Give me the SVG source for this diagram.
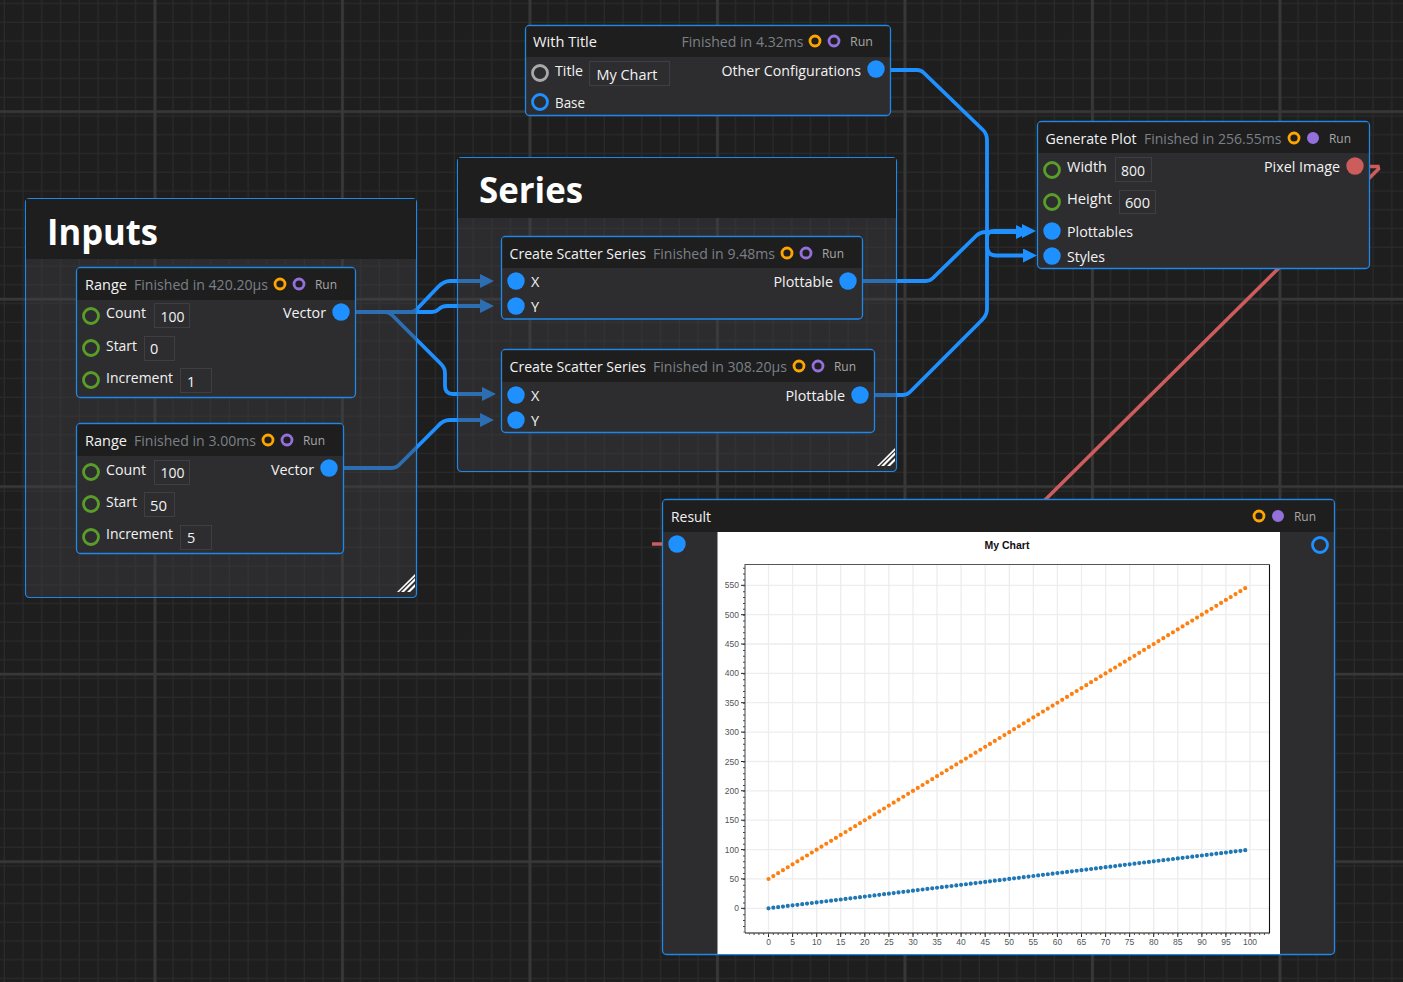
<svg xmlns="http://www.w3.org/2000/svg" width="1403" height="982" viewBox="0 0 1403 982">
<style>
text{font-family:"Open Sans","Noto Sans","Liberation Sans",sans-serif;fill:#f2f2f2;font-size:14.5px}
.d{fill:#7b8087}
.r{fill:#a6a6a6;font-size:12px}
.big{font-size:36px;font-weight:700;fill:#fff}
.tick{font-size:8.5px;fill:#555;text-anchor:middle;font-family:"Liberation Sans",sans-serif}
.ytick{text-anchor:end}
.node{fill:#2d2d30;stroke:#1e88ea;stroke-width:1.3}
.hdr{fill:#1e1e1e}
.grp{fill:#404044;fill-opacity:.42;stroke:#1e88ea;stroke-width:1.2}
.box{fill:#2d2d30;stroke:#3f3f43}
.dot{fill:#1e90ff}
.g{fill:none;stroke:#5a9e2a;stroke-width:2.8}
.o{fill:none;stroke:#ffa500;stroke-width:2.8}
.p{fill:none;stroke:#9370db;stroke-width:2.8}
.pf{fill:#9370db;stroke:#9370db;stroke-width:2}
.c{fill:none;stroke:#1e90ff;stroke-width:3.8;stroke-linejoin:round}
</style>
<defs>
<pattern id="minor" width="18.75" height="18.75" patternUnits="userSpaceOnUse" x="5" y="4.2">
<path d="M18.25 0V18.75M0 18.25H18.75" stroke="#2a2a2a" stroke-width="1.500" fill="none"/>
</pattern>
<pattern id="major" width="187.5" height="187.5" patternUnits="userSpaceOnUse" x="153.6" y="110.3">
<path d="M0 0V187.5M0 0H187.5" stroke="#383838" stroke-width="5.500" fill="none"/>
</pattern>
<marker id="a" markerUnits="userSpaceOnUse" markerWidth="14" markerHeight="14" refX="0" refY="7" orient="auto">
<path d="M0 0L14 7L0 14Z" fill="#1e90ff"/>
</marker>
<g id="grip"><path d="M-18 17L-16 17L0 1.500L0 -1ZM-14 17L-11 17L0 6L0 3ZM-8 17L-5 17L0 12L0 9Z" fill="#fff"/></g>
</defs>
<rect width="1403" height="982" fill="#1e1e1e"/>
<rect width="1403" height="982" fill="url(#minor)"/>
<rect width="1403" height="982" fill="url(#major)"/>

<g id="connectors">
<path id="c-image-result" d="M1365 166.500H1378L1378.500 169L1046 499L1000 544H652" fill="none" stroke="#cd5c5c" stroke-width="3.600"/>
<path class="c" marker-end="url(#a)" d="M355 312H411Q414 312 417 309L438 287Q444 281 450 281H480"/>
<path class="c" marker-end="url(#a)" d="M355 312H432Q436 312 439 309Q442 306 447 306H480"/>
<path class="c" marker-end="url(#a)" d="M355 312H385Q389 312 392 315L441 364Q445 368 445 373V386Q445 394 453 394H482"/>
<path class="c" marker-end="url(#a)" d="M343 468H392Q396 468 399 465L438 426Q443 420 450 420H480"/>
<path class="c" marker-end="url(#a)" d="M890 70H917Q921 70 924 73L983 130Q987 134 987 140V246Q987 255.500 996 255.500H1023"/>
<path class="c" marker-end="url(#a)" d="M862 281H926Q930 281 933 278L976 236Q980 232 986 232H1016"/>
<path class="c" marker-end="url(#a)" d="M874 395H903Q907 395 910 392L982 320Q987 315 987 309V238Q987 231 994 231H1022"/>
</g>

<g id="inputs">
<rect class="grp" x="25.500" y="198.500" width="391" height="399" rx="4"/>
<path class="hdr" d="M26 199H416V259H26Z"/>
<text class="big" x="47" y="245" textLength="111" lengthAdjust="spacingAndGlyphs">Inputs</text>
<use href="#grip" x="415" y="575"/>
</g>
<g id="series">
<rect class="grp" x="457.500" y="157.500" width="439" height="314" rx="4"/>
<path class="hdr" d="M458 158H896V218H458Z"/>
<text class="big" x="479" y="203" textLength="104" lengthAdjust="spacingAndGlyphs">Series</text>
<use href="#grip" x="895" y="449"/>
</g>

<g id="range-1">
<rect class="node" x="76.500" y="267.500" width="279" height="130" rx="4"/>
<path class="hdr" d="M77.500 268.500H354.500V300H77.500Z"/>
<text x="85" y="290" textLength="42" lengthAdjust="spacingAndGlyphs">Range</text>
<text class="d" x="134" y="290" textLength="134" lengthAdjust="spacingAndGlyphs">Finished in 420.20µs</text>
<circle class="o" cx="280" cy="284" r="5"/><circle class="p" cx="299" cy="284" r="5"/>
<text class="r" x="315" y="289" textLength="22" lengthAdjust="spacingAndGlyphs">Run</text>
<circle class="g" cx="91" cy="316" r="7.500"/><text x="106" y="318" textLength="40" lengthAdjust="spacingAndGlyphs">Count</text>
<rect class="box" x="154.500" y="303.500" width="35" height="24"/><text x="160.500" y="322" textLength="24" lengthAdjust="spacingAndGlyphs">100</text>
<circle class="g" cx="91" cy="348" r="7.500"/><text x="106" y="351" textLength="31" lengthAdjust="spacingAndGlyphs">Start</text>
<rect class="box" x="144.500" y="336.500" width="30" height="24"/><text x="150" y="354">0</text>
<circle class="g" cx="91" cy="380" r="7.500"/><text x="106" y="383" textLength="67" lengthAdjust="spacingAndGlyphs">Increment</text>
<rect class="box" x="180.500" y="368.500" width="31" height="24"/><text x="187" y="387">1</text>
<text x="283" y="318" textLength="43" lengthAdjust="spacingAndGlyphs">Vector</text>
<circle class="dot" cx="341" cy="312" r="8.700"/>
</g>

<g id="range-2">
<rect class="node" x="76.500" y="423.500" width="267" height="130" rx="4"/>
<path class="hdr" d="M77.500 424.500H342.500V456H77.500Z"/>
<text x="85" y="446" textLength="42" lengthAdjust="spacingAndGlyphs">Range</text>
<text class="d" x="134" y="446" textLength="122" lengthAdjust="spacingAndGlyphs">Finished in 3.00ms</text>
<circle class="o" cx="268" cy="440" r="5"/><circle class="p" cx="287" cy="440" r="5"/>
<text class="r" x="303" y="445" textLength="22" lengthAdjust="spacingAndGlyphs">Run</text>
<circle class="g" cx="91" cy="472" r="7.500"/><text x="106" y="475" textLength="40" lengthAdjust="spacingAndGlyphs">Count</text>
<rect class="box" x="154.500" y="460.500" width="35" height="24"/><text x="160.500" y="478" textLength="24" lengthAdjust="spacingAndGlyphs">100</text>
<circle class="g" cx="91" cy="504" r="7.500"/><text x="106" y="507" textLength="31" lengthAdjust="spacingAndGlyphs">Start</text>
<rect class="box" x="144.500" y="492.500" width="30" height="24"/><text x="150" y="511" textLength="17" lengthAdjust="spacingAndGlyphs">50</text>
<circle class="g" cx="91" cy="537" r="7.500"/><text x="106" y="539" textLength="67" lengthAdjust="spacingAndGlyphs">Increment</text>
<rect class="box" x="180.500" y="525.500" width="31" height="24"/><text x="187" y="543">5</text>
<text x="271" y="475" textLength="43" lengthAdjust="spacingAndGlyphs">Vector</text>
<circle class="dot" cx="329" cy="468" r="8.700"/>
</g>

<g id="with-title">
<rect class="node" x="525.500" y="25.500" width="365" height="90" rx="4"/>
<path class="hdr" d="M526.500 26.500H889.500V57H526.500Z"/>
<text x="533" y="47" textLength="64" lengthAdjust="spacingAndGlyphs">With Title</text>
<text class="d" x="681.500" y="47" textLength="122" lengthAdjust="spacingAndGlyphs">Finished in 4.32ms</text>
<circle class="o" cx="815" cy="41" r="5"/><circle class="p" cx="834" cy="41" r="5"/>
<text class="r" x="850" y="46" textLength="23" lengthAdjust="spacingAndGlyphs">Run</text>
<circle cx="540" cy="73" r="7.500" fill="none" stroke="#a9a9a9" stroke-width="2.800"/>
<text x="555" y="76" textLength="28" lengthAdjust="spacingAndGlyphs">Title</text>
<rect class="box" x="589.500" y="61.500" width="80" height="24"/><text x="596.500" y="80" textLength="61" lengthAdjust="spacingAndGlyphs">My Chart</text>
<text x="721.500" y="76" textLength="139.500" lengthAdjust="spacingAndGlyphs">Other Configurations</text>
<circle class="dot" cx="876" cy="69" r="8.700"/>
<circle cx="540" cy="102" r="7.500" fill="none" stroke="#1e90ff" stroke-width="2.800"/>
<text x="555" y="108" textLength="30" lengthAdjust="spacingAndGlyphs">Base</text>
</g>

<g id="scatter-1">
<rect class="node" x="501.500" y="236.500" width="361" height="82.500" rx="4"/>
<path class="hdr" d="M502.500 237.500H861.500V268H502.500Z"/>
<text x="509.500" y="259" textLength="136.500" lengthAdjust="spacingAndGlyphs">Create Scatter Series</text>
<text class="d" x="653" y="259" textLength="122" lengthAdjust="spacingAndGlyphs">Finished in 9.48ms</text>
<circle class="o" cx="787" cy="253" r="5"/><circle class="p" cx="806" cy="253" r="5"/>
<text class="r" x="822" y="258" textLength="22" lengthAdjust="spacingAndGlyphs">Run</text>
<circle class="dot" cx="516" cy="281" r="8.700"/><text x="531" y="287">X</text>
<circle class="dot" cx="516" cy="306" r="8.700"/><text x="531" y="312">Y</text>
<text x="773.500" y="287" textLength="59.500" lengthAdjust="spacingAndGlyphs">Plottable</text>
<circle class="dot" cx="848" cy="281" r="8.700"/>
</g>

<g id="scatter-2">
<rect class="node" x="501.500" y="349.500" width="373" height="83" rx="4"/>
<path class="hdr" d="M502.500 350.500H873.500V382H502.500Z"/>
<text x="509.500" y="372" textLength="136.500" lengthAdjust="spacingAndGlyphs">Create Scatter Series</text>
<text class="d" x="653" y="372" textLength="134" lengthAdjust="spacingAndGlyphs">Finished in 308.20µs</text>
<circle class="o" cx="799" cy="366" r="5"/><circle class="p" cx="818" cy="366" r="5"/>
<text class="r" x="834" y="371" textLength="22" lengthAdjust="spacingAndGlyphs">Run</text>
<circle class="dot" cx="516" cy="395" r="8.700"/><text x="531" y="401">X</text>
<circle class="dot" cx="516" cy="420" r="8.700"/><text x="531" y="426">Y</text>
<text x="785.500" y="401" textLength="59.500" lengthAdjust="spacingAndGlyphs">Plottable</text>
<circle class="dot" cx="860" cy="395" r="8.700"/>
</g>

<g id="generate-plot">
<rect class="node" x="1037.500" y="121.500" width="332" height="147" rx="4"/>
<path class="hdr" d="M1038.500 122.500H1368.500V153H1038.500Z"/>
<text x="1045.500" y="144" textLength="91" lengthAdjust="spacingAndGlyphs">Generate Plot</text>
<text class="d" x="1144" y="144" textLength="137.500" lengthAdjust="spacingAndGlyphs">Finished in 256.55ms</text>
<circle class="o" cx="1294" cy="138" r="5"/><circle class="pf" cx="1313" cy="138" r="5"/>
<text class="r" x="1329" y="143" textLength="22" lengthAdjust="spacingAndGlyphs">Run</text>
<circle class="g" cx="1052" cy="170" r="7.500"/><text x="1067" y="172" textLength="40" lengthAdjust="spacingAndGlyphs">Width</text>
<rect class="box" x="1115.500" y="157.500" width="36" height="24"/><text x="1121" y="176" textLength="24" lengthAdjust="spacingAndGlyphs">800</text>
<circle class="g" cx="1052" cy="202" r="7.500"/><text x="1067" y="204" textLength="45" lengthAdjust="spacingAndGlyphs">Height</text>
<rect class="box" x="1119.500" y="190.500" width="36" height="23"/><text x="1125" y="208" textLength="25" lengthAdjust="spacingAndGlyphs">600</text>
<circle class="dot" cx="1052" cy="231" r="8.700"/><text x="1067" y="237" textLength="66" lengthAdjust="spacingAndGlyphs">Plottables</text>
<circle class="dot" cx="1052" cy="256" r="8.700"/><text x="1067" y="262" textLength="38" lengthAdjust="spacingAndGlyphs">Styles</text>
<text x="1264" y="172" textLength="76" lengthAdjust="spacingAndGlyphs">Pixel Image</text>
<circle cx="1355" cy="166" r="8.700" fill="#cd5c5c"/>
</g>

<g id="result">
<rect class="node" x="662.500" y="499.500" width="672" height="455" rx="4"/>
<path class="hdr" d="M663.500 500.500H1333.500V532H663.500Z"/>
<text x="671" y="522" textLength="40" lengthAdjust="spacingAndGlyphs">Result</text>
<circle class="o" cx="1259" cy="516" r="5"/><circle class="pf" cx="1278" cy="516" r="5"/>
<text class="r" x="1294" y="521" textLength="22" lengthAdjust="spacingAndGlyphs">Run</text>
<circle class="dot" cx="677" cy="544" r="8.700"/>
<circle cx="1320" cy="545" r="7.500" fill="none" stroke="#1e90ff" stroke-width="2.800"/>
<rect x="717.500" y="532" width="562.500" height="422" fill="#fff"/>
<text x="1007" y="549" text-anchor="middle" style="font-family:'Liberation Sans',sans-serif;font-size:10.500px;font-weight:700;fill:#111">My Chart</text>
<path fill="none" stroke="#ededed" stroke-width="1.300" d="M768.500 564V933M792.600 564V933M816.700 564V933M840.700 564V933M864.800 564V933M888.900 564V933M913 564V933M937 564V933M961.100 564V933M985.200 564V933M1009.300 564V933M1033.300 564V933M1057.400 564V933M1081.500 564V933M1105.600 564V933M1129.600 564V933M1153.700 564V933M1177.800 564V933M1201.900 564V933M1225.900 564V933M1250 564V933M745 908.300H1269M745 878.900H1269M745 849.600H1269M745 820.200H1269M745 790.800H1269M745 761.500H1269M745 732.100H1269M745 702.700H1269M745 673.400H1269M745 644H1269M745 614.700H1269M745 585.300H1269"/>
<path fill="none" stroke="#555" stroke-width="1.100" d="M745 933V564.500H1269.500"/>
<path fill="none" stroke="#111" stroke-width="1.100" d="M745 933H1269.500V564.500"/>
<path fill="none" stroke="#222" stroke-width="1" d="M768.500 933v4M792.600 933v4M816.700 933v4M840.700 933v4M864.800 933v4M888.900 933v4M913 933v4M937 933v4M961.100 933v4M985.200 933v4M1009.300 933v4M1033.300 933v4M1057.400 933v4M1081.500 933v4M1105.600 933v4M1129.600 933v4M1153.700 933v4M1177.800 933v4M1201.900 933v4M1225.900 933v4M1250 933v4M745 908.300h-4M745 878.900h-4M745 849.600h-4M745 820.200h-4M745 790.800h-4M745 761.500h-4M745 732.100h-4M745 702.700h-4M745 673.400h-4M745 644h-4M745 614.700h-4M745 585.300h-4"/>
<path fill="none" stroke="#444" stroke-width="2" stroke-dasharray="1 3.815" stroke-dashoffset="0.500" d="M749.240 934H1269"/>
<path fill="none" stroke="#444" stroke-width="2" stroke-dasharray="1 4.873" d="M744 932.300V565" stroke-dashoffset="0.500"/>
<g class="tick">
<text class="tick" x="768.500" y="945">0</text><text class="tick" x="792.600" y="945">5</text><text class="tick" x="816.700" y="945">10</text><text class="tick" x="840.700" y="945">15</text><text class="tick" x="864.800" y="945">20</text><text class="tick" x="888.900" y="945">25</text><text class="tick" x="913" y="945">30</text><text class="tick" x="937" y="945">35</text><text class="tick" x="961.100" y="945">40</text><text class="tick" x="985.200" y="945">45</text><text class="tick" x="1009.300" y="945">50</text><text class="tick" x="1033.300" y="945">55</text><text class="tick" x="1057.400" y="945">60</text><text class="tick" x="1081.500" y="945">65</text><text class="tick" x="1105.600" y="945">70</text><text class="tick" x="1129.600" y="945">75</text><text class="tick" x="1153.700" y="945">80</text><text class="tick" x="1177.800" y="945">85</text><text class="tick" x="1201.900" y="945">90</text><text class="tick" x="1225.900" y="945">95</text><text class="tick" x="1250" y="945">100</text>
<text class="tick ytick" x="739" y="911.300">0</text><text class="tick ytick" x="739" y="881.900">50</text><text class="tick ytick" x="739" y="852.600">100</text><text class="tick ytick" x="739" y="823.200">150</text><text class="tick ytick" x="739" y="793.800">200</text><text class="tick ytick" x="739" y="764.500">250</text><text class="tick ytick" x="739" y="735.100">300</text><text class="tick ytick" x="739" y="705.700">350</text><text class="tick ytick" x="739" y="676.400">400</text><text class="tick ytick" x="739" y="647">450</text><text class="tick ytick" x="739" y="617.700">500</text><text class="tick ytick" x="739" y="588.300">550</text>
</g>
<path d="M768.500 908.300L1245.700 850.140" fill="none" stroke="#1f77b4" stroke-width="4.200" stroke-linecap="round" stroke-dasharray="0 4.851"/>
<path d="M768.500 879L1245.700 587.900" fill="none" stroke="#ff7f0e" stroke-width="4.200" stroke-linecap="round" stroke-dasharray="0 5.640"/>
</g>
</svg>
